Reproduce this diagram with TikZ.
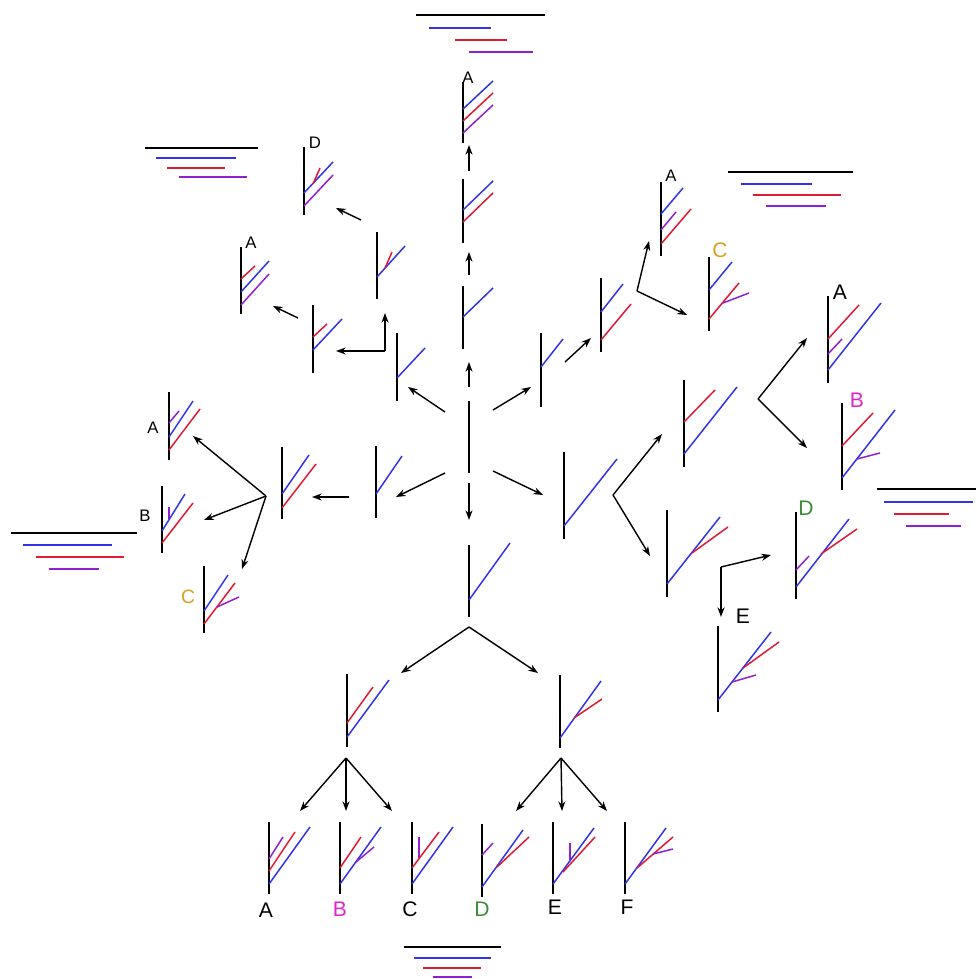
\documentclass[tikz,border=0pt]{standalone}
\usepackage{fontspec}
\setmainfont{Liberation Sans}
\usetikzlibrary{arrows.meta}
\definecolor{bl}{RGB}{50,50,235}
\definecolor{rd}{RGB}{225,25,50}
\definecolor{pu}{RGB}{145,30,210}
\definecolor{gold}{RGB}{215,160,30}
\definecolor{mag}{RGB}{225,35,200}
\definecolor{grn}{RGB}{60,140,60}
\begin{document}
\begin{tikzpicture}[x=0.02cm,y=-0.02cm,line width=0.8pt,>={Stealth[length=5.5pt,width=4pt]},
  trunk/.style={line width=1.1pt},
  bb/.style={bl,line width=0.85pt},
  rb/.style={rd,line width=0.85pt},
  pb/.style={pu,line width=0.85pt},
  sm/.style={font=\fontsize{9.5}{10}\selectfont,inner sep=0pt},
  lg/.style={font=\fontsize{12}{13}\selectfont,inner sep=0pt}]
\useasboundingbox (0,0) rectangle (976,979);
% ---------- centre ----------
\draw[line width=1.6pt] (469,401) -- (469,473);
\draw[->] (469,387) -- (469,362);
\draw[->] (493,410) -- (531,387);
\draw[->] (493,471) -- (543,495);
\draw[->] (469,483) -- (469,520);
\draw[->] (445,473) -- (396,497);
\draw[->] (445,412) -- (408,387);
% ---------- up ----------
\draw[trunk] (463,286) -- (463,349);
\draw[bb] (463,317) -- (493,288);
\draw[->] (469,275) -- (469,252);
\draw[trunk] (463,179) -- (463,243);
\draw[bb] (463,210) -- (493,181);
\draw[rb] (463,222) -- (493,193);
\draw[->] (469,171) -- (469,145);
\draw[trunk] (463,82) -- (463,143);
\draw[bb] (463,109) -- (493,81);
\draw[rb] (463,121) -- (493,93);
\draw[pb] (463,133) -- (493,105);
\node[sm] (upA) at (468,78) {A};
\draw[line width=1pt] (416,15) -- (545,15);
\draw[bb] (429,28) -- (491,28);
\draw[rb] (455,40) -- (507,40);
\draw[pb] (469,52) -- (533,52);
% ---------- up left ----------
\draw[trunk] (397,333) -- (397,401);
\draw[bb] (397,378) -- (425,348);
\draw[->] (385,351) -- (385,313);
\draw[->] (385,351) -- (336,351);
\draw[trunk] (377,232) -- (377,299);
\draw[bb] (377,277) -- (405,246);
\draw[rb] (385,268) -- (392,252);
\draw[->] (361,220) -- (336,208);
\draw[trunk] (304,147) -- (304,215);
\draw[bb] (304,193) -- (333,162);
\draw[pb] (304,206) -- (333,175);
\draw[rb] (313,184) -- (320,168);
\node[sm] (ulD) at (315,143) {D};
\draw[trunk] (313,305) -- (313,373);
\draw[rb] (313,337) -- (327,324);
\draw[bb] (313,350) -- (342,319);
\draw[->] (298,318) -- (273,306);
\draw[trunk] (241,247) -- (241,314);
\draw[rb] (241,279) -- (255,266);
\draw[bb] (241,292) -- (269,261);
\draw[pb] (241,305) -- (269,274);
\node[sm] (ulA) at (251,243) {A};
\draw[line width=1pt] (145,148) -- (258,148);
\draw[bb] (156,158) -- (236,158);
\draw[rb] (167,168) -- (225,168);
\draw[pb] (179,177) -- (247,177);
% ---------- left ----------
\draw[trunk] (376,446) -- (376,518);
\draw[bb] (376,494) -- (402,456);
\draw[->] (349,497) -- (312,497);
\draw[trunk] (282,447) -- (282,519);
\draw[bb] (282,494) -- (309,455);
\draw[rb] (282,508) -- (316,464);
\draw[->] (266,496) -- (193,436);
\draw[->] (266,496) -- (204,520);
\draw[->] (266,496) -- (242,569);
\draw[trunk] (169,392) -- (169,460);
\draw[pb] (169,423) -- (179,411);
\draw[bb] (169,437) -- (193,401);
\draw[rb] (169,450) -- (200,409);
\node[sm] (lA) at (153,428) {A};
\draw[trunk] (162,486) -- (162,553);
\draw[pb] (169,519) -- (169,507);
\draw[bb] (162,531) -- (185,494);
\draw[rb] (162,543) -- (193,503);
\node[sm] (lB) at (145,516) {B};
\draw[trunk] (204,566) -- (204,633);
\draw[bb] (204,611) -- (228,575);
\draw[rb] (204,624) -- (235,583);
\draw[pb] (217,607) -- (239,597);
\node[lg,text=gold,font=\fontsize{11}{12}\selectfont] (lC) at (188,597) {C};
\draw[line width=1pt] (11,533) -- (137,533);
\draw[bb] (23,545) -- (112,545);
\draw[rb] (36,557) -- (124,557);
\draw[pb] (49,569) -- (99,569);
% ---------- up right ----------
\draw[trunk] (541,333) -- (541,407);
\draw[bb] (541,367) -- (563,339);
\draw[->] (565,362) -- (591,338);
\draw[trunk] (601,278) -- (601,352);
\draw[bb] (601,312) -- (623,284);
\draw[rb] (601,340) -- (631,304);
\draw[->] (637,291) -- (649,241);
\draw[->] (637,291) -- (687,315);
\draw[trunk] (661,182) -- (661,256);
\draw[bb] (661,214) -- (683,188);
\draw[pb] (661,230) -- (676,212);
\draw[rb] (661,244) -- (691,209);
\node[sm] (urA) at (671,176) {A};
\draw[trunk] (709,257) -- (709,331);
\draw[bb] (709,290) -- (732,262);
\draw[rb] (709,319) -- (739,283);
\draw[pb] (723,303) -- (749,293);
\node[lg,text=gold] (urC) at (720,250) {C};
\draw[line width=1pt] (728,172) -- (853,172);
\draw[bb] (741,184) -- (812,184);
\draw[rb] (753,195) -- (841,195);
\draw[pb] (766,206) -- (826,206);
% ---------- right ----------
\draw[trunk] (564,452) -- (564,539);
\draw[bb] (564,526) -- (617,459);
\draw[->] (613,495) -- (662,434);
\draw[->] (613,495) -- (650,556);
\draw[trunk] (684,380) -- (684,467);
\draw[rb] (684,422) -- (715,390);
\draw[bb] (684,454) -- (737,387);
\draw[->] (758,399) -- (807,338);
\draw[->] (758,399) -- (807,448);
\draw[trunk] (828,296) -- (828,383);
\draw[rb] (828,339) -- (859,305);
\draw[pb] (828,354) -- (842,339);
\draw[bb] (828,370) -- (881,303);
\node[lg] (rA) at (840,292) {A};
\draw[trunk] (842,403) -- (842,490);
\draw[rb] (842,446) -- (873,413);
\draw[bb] (842,478) -- (895,410);
\draw[pb] (857,459) -- (880,453);
\node[lg,text=mag] (rB) at (857,400) {B};
\draw[line width=1pt] (877,489) -- (976,489);
\draw[bb] (884,502) -- (973,502);
\draw[rb] (894,514) -- (949,514);
\draw[pb] (906,526) -- (961,526);
\draw[trunk] (667,510) -- (667,597);
\draw[bb] (667,584) -- (720,517);
\draw[rb] (692,553) -- (728,527);
\draw[->] (721,567) -- (771,555);
\draw[->] (721,567) -- (721,617);
\draw[trunk] (796,512) -- (796,599);
\draw[bb] (796,587) -- (849,519);
\draw[rb] (821,554) -- (857,529);
\draw[pb] (796,570) -- (809,556);
\node[lg,text=grn] (rD) at (806,508) {D};
\draw[trunk] (718,626) -- (718,712);
\draw[bb] (718,700) -- (771,632);
\draw[rb] (743,668) -- (779,642);
\draw[pb] (732,682) -- (756,675);
\node[lg] (rE) at (743,616) {E};
% ---------- down ----------
\draw[trunk] (469,545) -- (469,617);
\draw[bb] (469,600) -- (510,543);
\draw[->] (469,627) -- (401,673);
\draw[->] (469,627) -- (538,673);
\draw[trunk] (347,674) -- (347,747);
\draw[rb] (347,723) -- (373,687);
\draw[bb] (347,737) -- (389,680);
\draw[trunk] (560,675) -- (560,748);
\draw[bb] (560,738) -- (601,681);
\draw[rb] (574,718) -- (602,699);
\draw[->] (346,758) -- (300,811);
\draw[->] (346,758) -- (346,811);
\draw[->] (346,758) -- (392,811);
\draw[->] (561,758) -- (516,811);
\draw[->] (561,758) -- (562,811);
\draw[->] (561,758) -- (607,811);
% ---------- bottom row ----------
\draw[trunk] (269,822) -- (269,894);
\draw[pb] (269,859) -- (283,837);
\draw[rb] (269,871) -- (295,832);
\draw[bb] (269,884) -- (310,827);
\node[lg] (bA) at (266,910) {A};
\draw[trunk] (340,822) -- (340,894);
\draw[rb] (340,868) -- (361,837);
\draw[bb] (340,884) -- (381,827);
\draw[pb] (356,862) -- (374,847);
\node[lg,text=mag] (bB) at (340,909) {B};
\draw[trunk] (412,822) -- (412,894);
\draw[pb] (419,858) -- (419,837);
\draw[rb] (412,868) -- (439,832);
\draw[bb] (412,884) -- (453,827);
\node[lg] (bC) at (410,909) {C};
\draw[trunk] (482,824) -- (482,897);
\draw[pb] (482,855) -- (493,843);
\draw[bb] (482,887) -- (523,830);
\draw[rb] (497,867) -- (529,837);
\node[lg,text=grn] (bD) at (482,909) {D};
\draw[trunk] (553,822) -- (553,894);
\draw[bb] (553,884) -- (594,828);
\draw[rb] (563,872) -- (595,837);
\draw[pb] (570,860) -- (570,843);
\node[lg] (bE) at (555,907) {E};
\draw[trunk] (625,822) -- (625,894);
\draw[bb] (625,884) -- (666,828);
\draw[rb] (637,868) -- (673,837);
\draw[pb] (653,854) -- (673,849);
\node[lg] (bF) at (627,907) {F};
\draw[line width=1pt] (404,947) -- (501,947);
\draw[bb] (414,958) -- (491,958);
\draw[rb] (423,968) -- (481,968);
\draw[pb] (433,977) -- (472,977);
\end{tikzpicture}
\end{document}
